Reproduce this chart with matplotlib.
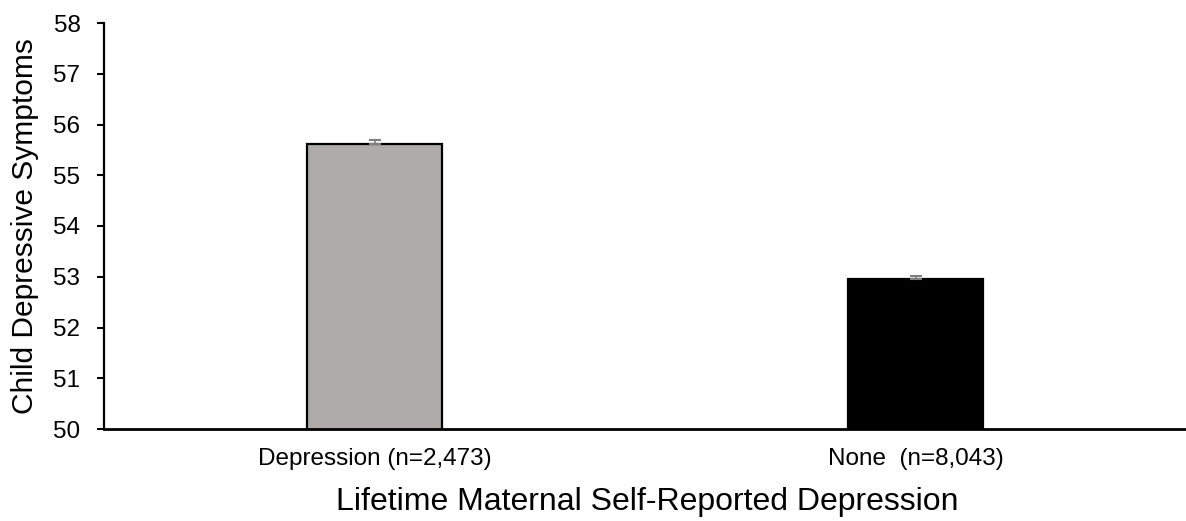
import matplotlib
matplotlib.use("Agg")
import matplotlib.pyplot as plt

categories = ["Depression (n=2,473)", "None  (n=8,043)"]
values = [55.61, 52.955]
errors = [0.08, 0.06]
colors = ["#AFABAB", "#000000"]

plt.rcParams['font.family'] = ['Liberation Sans', 'DejaVu Sans']

fig = plt.figure(figsize=(11.86, 5.21), dpi=100)
ax = fig.add_axes([104/1186, 1-429/521, 1-104/1186, (429-23)/521])

x = list(range(len(categories)))
ax.bar(x, values, width=0.25, color=colors, edgecolor="black", linewidth=1.6, zorder=2)
ax.errorbar(x, values, yerr=[[0]*len(errors), errors], fmt='none', ecolor="#7F7F7F",
            elinewidth=1.2, capsize=4.5, capthick=1.5, zorder=3)

ax.set_xlim(-0.5, 1.5)
ax.set_ylim(50, 58)
ax.set_yticks(range(50, 59))
ax.set_xticks(x)
ax.set_xticklabels(categories, fontsize=17.5)
ax.tick_params(axis='y', labelsize=17.5, direction='out', length=5, width=1.5, pad=12)
ax.tick_params(axis='x', length=0, pad=14)
for s in ["top", "right"]:
    ax.spines[s].set_visible(False)
ax.spines["left"].set_linewidth(1.6)
ax.spines["bottom"].set_linewidth(2)
ax.set_ylabel("Child Depressive Symptoms", fontsize=21.5)
ax.set_xlabel("Lifetime Maternal Self-Reported Depression", fontsize=23)
ax.yaxis.set_label_coords(-0.060, 0.5)
ax.xaxis.set_label_coords(0.502, -0.143)

fig.savefig("out.png", dpi=100)
